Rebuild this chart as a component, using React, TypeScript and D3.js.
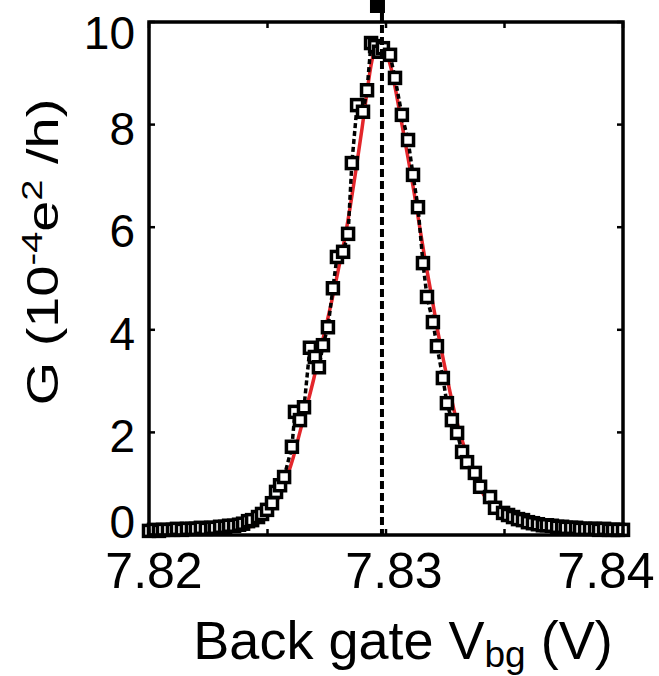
import React from "react";
import * as d3 from "d3";

// Measured data: back gate voltage (V) and conductance (10^-4 e^2/h)
const vbg = [
  7.82, 7.82021, 7.82042, 7.82059, 7.8208, 7.82101, 7.82118, 7.82139, 7.8216, 7.82181,
  7.82198, 7.82219, 7.8224, 7.82262, 7.82278, 7.823, 7.82321, 7.82338, 7.82359, 7.8238,
  7.82397, 7.82418, 7.82435, 7.8246, 7.82477, 7.82498, 7.82519, 7.82536, 7.82553, 7.8257,
  7.82603, 7.82616, 7.82637, 7.82654, 7.82679, 7.827, 7.82717, 7.82734, 7.82755, 7.82776,
  7.82793, 7.82819, 7.8284, 7.82856, 7.82878, 7.82903, 7.8292, 7.82937, 7.82954, 7.82971,
  7.82987, 7.83017, 7.83038, 7.83067, 7.83093, 7.83114, 7.83135, 7.83156, 7.83173, 7.83198,
  7.83215, 7.8324, 7.83257, 7.83278, 7.833, 7.83321, 7.83342, 7.83375, 7.83397, 7.83439,
  7.8346, 7.83494, 7.83515, 7.83536, 7.83557, 7.83578, 7.83599, 7.8362, 7.83641, 7.83662,
  7.83679, 7.837, 7.83722, 7.83743, 7.83759, 7.83781, 7.83802, 7.83819, 7.8384, 7.83861,
  7.83882, 7.83899, 7.8392, 7.83941, 7.83958, 7.83979, 7.84,
];
const conductance = [
  0.08, 0.1, 0.08, 0.1, 0.1, 0.1, 0.12, 0.1, 0.12, 0.12,
  0.12, 0.14, 0.12, 0.14, 0.14, 0.16, 0.16, 0.18, 0.18, 0.2,
  0.22, 0.27, 0.29, 0.35, 0.41, 0.49, 0.62, 0.84, 0.97, 1.13,
  1.72, 2.4, 2.24, 2.49, 3.65, 3.47, 3.27, 3.7, 4.05, 4.81,
  5.42, 5.52, 5.87, 7.25, 8.38, 8.25, 8.67, 9.59, 9.53, 9.42,
  9.49, 9.36, 8.91, 8.19, 7.7, 7.02, 6.39, 5.3, 4.64, 4.15,
  3.68, 3.06, 2.57, 2.24, 1.99, 1.62, 1.42, 1.21, 0.94, 0.74,
  0.53, 0.43, 0.39, 0.35, 0.31, 0.29, 0.25, 0.23, 0.21, 0.19,
  0.19, 0.18, 0.16, 0.16, 0.14, 0.14, 0.14, 0.12, 0.12, 0.12,
  0.12, 0.1, 0.12, 0.1, 0.1, 0.1, 0.1,
];

// Fit curve (red)
const fitV = [
  7.82426, 7.82477, 7.82519, 7.82553, 7.82582, 7.82608, 7.82637, 7.82667, 7.82696, 7.82721,
  7.82747, 7.82772, 7.82797, 7.82823, 7.82848, 7.82873, 7.82899, 7.8292, 7.82937, 7.82954,
  7.82971, 7.82987, 7.83004, 7.83025, 7.83046, 7.83067, 7.83093, 7.83118, 7.83143, 7.83168,
  7.83194, 7.83219, 7.83245, 7.8327, 7.83295, 7.83321, 7.8335, 7.8338, 7.83413, 7.83456,
  7.83502, 7.83549,
];
const fitG = [
  0.16, 0.29, 0.53, 0.78, 1.13, 1.5, 2.01, 2.53, 3.06, 3.57,
  4.07, 4.58, 5.13, 5.71, 6.37, 7.11, 7.93, 8.64, 9.16, 9.47,
  9.59, 9.55, 9.38, 9.03, 8.54, 8.01, 7.35, 6.69, 5.98, 5.28,
  4.62, 3.96, 3.35, 2.79, 2.28, 1.85, 1.42, 1.07, 0.78, 0.53,
  0.35, 0.25,
];

const peakV = 7.82983;

const xTicks = [7.82, 7.825, 7.83, 7.835, 7.84];
const xTickLabels = ["7.82", "", "7.83", "", "7.84"];
const yTicks = [0, 2, 4, 6, 8, 10];
const yTickLabels = ["0", "2", "4", "6", "8", "10"];

const W = 659;
const H = 676;
const FONT = "'Liberation Sans', Arial, Helvetica, sans-serif";

export default function App() {
  const x = d3.scaleLinear().domain([7.82, 7.84]).range([149, 623]);
  const y = d3.scaleLinear().domain([0, 10]).range([535, 22]);

  const pts = vbg.map((v, i) => [v, conductance[i]] as [number, number]);
  const fit = fitV.map((v, i) => [v, fitG[i]] as [number, number]);
  const line = d3
    .line<[number, number]>()
    .x((d) => x(d[0]))
    .y((d) => y(d[1]));
  const smooth = d3
    .line<[number, number]>()
    .x((d) => x(d[0]))
    .y((d) => y(d[1]))
    .curve(d3.curveMonotoneX);

  const [x0, x1] = x.range();
  const [yb, yt] = y.range();
  const xLabelOffsets = [5, 0, 8, 0, -17];
  const yLabelY = (t: number) => (t === 0 ? 522 : t === 10 ? y(t) + 11 : y(t) + 4);

  return (
    <div style={{ position: "fixed", left: 0, top: 0 }}>
      <svg width={W} height={H} style={{ display: "block", background: "#fff" }}>
        {/* legend remnant marker */}
        <rect x={x(peakV) - 12} y={0} width={15} height={13} fill="#000" />

        {/* fit */}
        <path d={smooth(fit) || ""} fill="none" stroke="#e3262b" strokeWidth={3.5} />
        {/* data connecting dotted line */}
        <path
          d={line(pts) || ""}
          fill="none"
          stroke="#000"
          strokeWidth={3.5}
          strokeDasharray="5 3"
        />
        {/* markers */}
        {pts.map((d, i) => (
          <rect
            key={i}
            x={x(d[0]) - 5.5}
            y={y(d[1]) - 5.5}
            width={11}
            height={11}
            fill="#fff"
            stroke="#000"
            strokeWidth={3.5}
          />
        ))}
        {/* vertical dashed line at peak */}
        <line
          x1={x(peakV)}
          x2={x(peakV)}
          y1={13}
          y2={yb}
          stroke="#000"
          strokeWidth={4}
          strokeDasharray="8 4"
        />

        {/* frame */}
        <rect x={x0} y={yt} width={x1 - x0} height={yb - yt} fill="none" stroke="#000" strokeWidth={3.5} />
        {/* ticks */}
        {xTicks.map((t, i) => (
          <g key={"xt" + i}>
            <line x1={x(t)} x2={x(t)} y1={yb} y2={yb - 6} stroke="#000" strokeWidth={2.5} />
            <line x1={x(t)} x2={x(t)} y1={yt} y2={yt + 6} stroke="#000" strokeWidth={2.5} />
            {xTickLabels[i] && (
              <text
                x={x(t) + xLabelOffsets[i]}
                y={588}
                textAnchor="middle"
                fontFamily={FONT}
                fontSize={50}
                fill="#000"
              >
                {xTickLabels[i]}
              </text>
            )}
          </g>
        ))}
        {yTicks.map((t, i) => (
          <g key={"yt" + i}>
            <line x1={x0} x2={x0 + 6} y1={y(t)} y2={y(t)} stroke="#000" strokeWidth={2.5} />
            <line x1={x1} x2={x1 - 6} y1={y(t)} y2={y(t)} stroke="#000" strokeWidth={2.5} />
            <text
              x={135}
              y={yLabelY(t)}
              textAnchor="end"
              dominantBaseline="central"
              fontFamily={FONT}
              fontSize={46}
              fill="#000"
            >
              {yTickLabels[i]}
            </text>
          </g>
        ))}

        {/* y axis label */}
        <text
          transform="translate(58, 252) scale(1, 1.27) rotate(-90)"
          textAnchor="middle"
          fontFamily={FONT}
          fontSize={44}
          fill="#000"
        >
          G (10
          <tspan dy={-16} fontSize={30}>-4</tspan>
          <tspan dy={16}>e</tspan>
          <tspan dy={-16} fontSize={30}>2</tspan>
          <tspan dy={16}> /h)</tspan>
        </text>

        {/* x axis label */}
        <text x={403} y={659} textAnchor="middle" fontFamily={FONT} fontSize={54} fill="#000">
          Back gate V
          <tspan dy={8} fontSize={37}>bg</tspan>
          <tspan dy={-8}> (V)</tspan>
        </text>
      </svg>
    </div>
  );
}
